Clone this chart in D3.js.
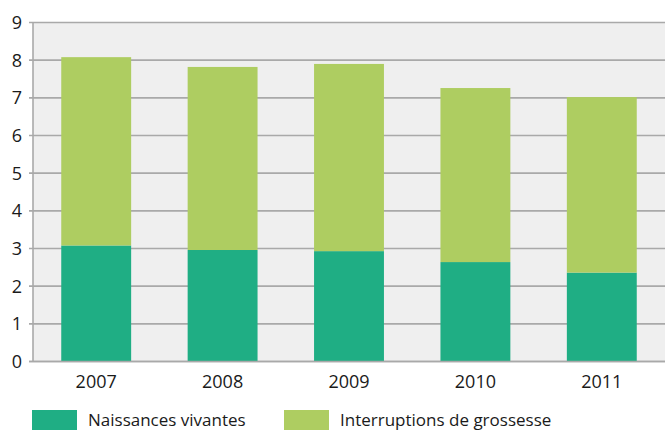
<!DOCTYPE html>
<html>
<head>
<meta charset="utf-8">
<script src="https://cdn.jsdelivr.net/npm/d3@7"></script>
<style>
  body { margin: 0; background: #fff; }
  text { font-family: "Open Sans", "DejaVu Sans", sans-serif; fill: #1a1a1a; }
</style>
</head>
<body>
<div id="chart"></div>
<script>
// data
let years = ["2007", "2008", "2009", "2010", "2011"];
let naissances = [3.08, 2.96, 2.93, 2.64, 2.36];
let totals = [8.08, 7.82, 7.90, 7.26, 7.02];
let interruptions = totals.map((t, i) => +(t - naissances[i]).toFixed(2));
let seriesNames = ["Naissances vivantes", "Interruptions de grossesse"];
let colors = ["#1fae84", "#aecd61"];
let yTicks = [0, 1, 2, 3, 4, 5, 6, 7, 8, 9];

let width = 665, height = 431;
let margin = {top: 22.5, right: 0, bottom: 69.5, left: 33};
let innerW = width - margin.left - margin.right;
let innerH = height - margin.top - margin.bottom;

let svg = d3.select("#chart").append("svg")
    .attr("width", width)
    .attr("height", height);

let g = svg.append("g")
    .attr("transform", `translate(${margin.left},${margin.top})`);

let x = d3.scaleBand().domain(years).range([0, innerW]).paddingInner(0.447).paddingOuter(0.2235);
let y = d3.scaleLinear().domain([0, 9]).range([innerH, 0]);

// plot background
g.append("rect")
    .attr("width", innerW)
    .attr("height", innerH)
    .attr("fill", "#efefef");

// gridlines
g.selectAll(".grid")
    .data(yTicks)
    .enter()
    .append("line")
    .attr("x1", -4)
    .attr("x2", innerW)
    .attr("y1", d => y(d))
    .attr("y2", d => y(d))
    .attr("stroke", "#a9a9a9")
    .attr("stroke-width", 1.6);

// stacked bars
let rows = years.map((yr, i) => ({year: yr, n: naissances[i], ig: interruptions[i]}));
let stack = d3.stack().keys(["n", "ig"]);
let layers = stack(rows);

g.selectAll(".layer")
    .data(layers)
    .enter()
    .append("g")
    .attr("fill", (d, i) => colors[i])
    .selectAll("rect")
    .data(d => d)
    .enter()
    .append("rect")
    .attr("x", d => x(d.data.year))
    .attr("width", x.bandwidth())
    .attr("y", d => y(d[1]))
    .attr("height", d => y(d[0]) - y(d[1]));

// axis lines
g.append("line")
    .attr("x1", 0).attr("x2", 0)
    .attr("y1", 0).attr("y2", innerH)
    .attr("stroke", "#a9a9a9").attr("stroke-width", 1.6);
g.append("line")
    .attr("x1", -4).attr("x2", innerW)
    .attr("y1", innerH).attr("y2", innerH)
    .attr("stroke", "#a9a9a9").attr("stroke-width", 1.6);

// y labels
g.selectAll(".ylab")
    .data(yTicks)
    .enter()
    .append("text")
    .attr("x", -11)
    .attr("y", d => y(d))
    .attr("dy", "0.36em")
    .attr("text-anchor", "end")
    .attr("font-size", 18)
    .text(d => d);

// x labels
g.selectAll(".xlab")
    .data(years)
    .enter()
    .append("text")
    .attr("x", d => x(d) + x.bandwidth() / 2)
    .attr("y", innerH + 26.5)
    .attr("text-anchor", "middle")
    .attr("font-size", 18)
    .text(d => d);

// legend
let legendX = [32, 284];
let legend = svg.selectAll(".legend")
    .data(seriesNames)
    .enter()
    .append("g")
    .attr("transform", (d, i) => `translate(${legendX[i]},410)`);
legend.append("rect")
    .attr("width", 45)
    .attr("height", 20)
    .attr("fill", (d, i) => colors[i]);
legend.append("text")
    .attr("x", 56)
    .attr("y", 16)
    .attr("font-size", 17)
    .text(d => d);
</script>
</body>
</html>
